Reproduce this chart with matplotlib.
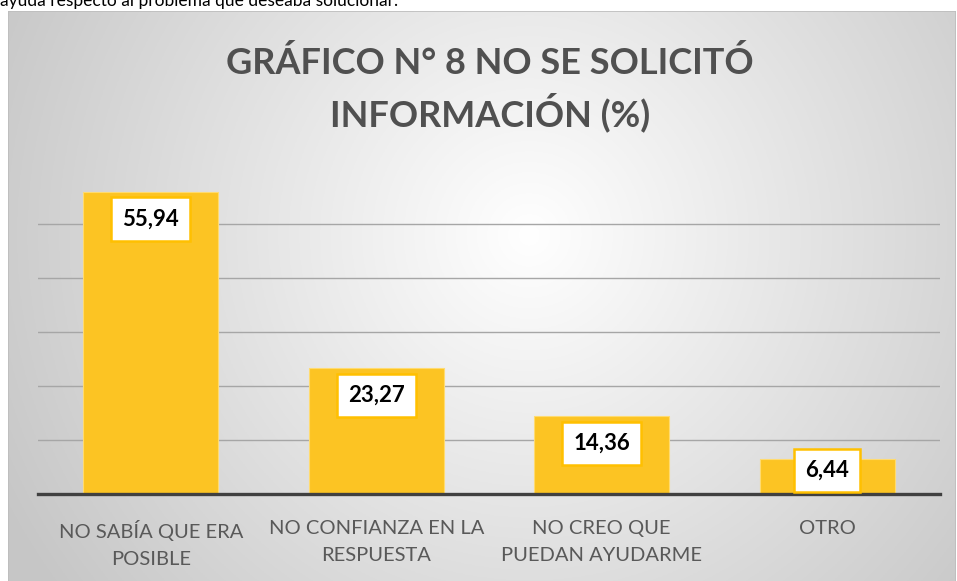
import numpy as np
import matplotlib.pyplot as plt
from matplotlib.patches import Rectangle

categories = ["NO SABÍA QUE ERA\nPOSIBLE", "NO CONFIANZA EN LA\nRESPUESTA",
              "NO CREO QUE\nPUEDAN AYUDARME", "OTRO"]
values = [55.94, 23.27, 14.36, 6.44]
value_labels = ["55,94", "23,27", "14,36", "6,44"]
title = "GRÁFICO N° 8 NO SE SOLICITÓ\nINFORMACIÓN (%)"
top_text = "ayuda respecto al problema que deseaba solucionar."

W, H = 957, 581
plt.rcParams['font.family'] = ['Lato', 'DejaVu Sans']

fig = plt.figure(figsize=(W / 100, H / 100), dpi=100)
fig.patch.set_facecolor('white')

def px_box(x0, y0, x1, y1):
    # pixel coords (top-left origin) -> figure fraction
    return [x0 / W, 1 - y1 / H, (x1 - x0) / W, (y1 - y0) / H]

# chart area background with radial gradient
bg = fig.add_axes(px_box(8, 11, 956, 600))
bg.set_axis_off()
nx, ny = 400, 260
xx, yy = np.meshgrid(np.linspace(0, 1, nx), np.linspace(0, 1, ny))
cx, cy = 0.55, 0.38
r = np.sqrt(((xx - cx) * 1.0) ** 2 + ((yy - cy) * 0.62) ** 2)
r = np.clip(r / 0.62, 0, 1)
light = np.array([1.0, 1.0, 1.0])
dark = np.array([0.78, 0.78, 0.78])
img = light[None, None, :] * (1 - r[..., None]) + dark[None, None, :] * r[..., None]
bg.imshow(img, extent=[0, 1, 0, 1], origin='upper', aspect='auto')
bg.set_xlim(0, 1)
bg.set_ylim(0, 1)
bg.add_patch(Rectangle((0, 0), 1, 1, fill=False, edgecolor='#bdbdbd', lw=1.2,
                       transform=bg.transAxes))

# text of the page above the chart, cut off by the screenshot
fig.text(0, 1 - 6 / H, top_text, fontsize=12.5, color='black',
         ha='left', va='baseline')

ax = fig.add_axes(px_box(38, 170, 940, 494))
ax.patch.set_alpha(0)
x = np.arange(len(categories))
ax.bar(x, values, width=0.6, color='#fcc423', edgecolor='#ffdb70', lw=0.8, zorder=3)
ax.set_xlim(-0.5, len(categories) - 0.5)
ax.set_ylim(0, 60)
ax.set_yticks([10, 20, 30, 40, 50])
ax.yaxis.grid(True, color='#a6a6a6', lw=1.0, zorder=0)
ax.set_yticklabels([])
ax.tick_params(axis='y', length=0)
ax.tick_params(axis='x', length=0, pad=19)
for s in ['top', 'right', 'left']:
    ax.spines[s].set_visible(False)
ax.spines['bottom'].set_color('#404040')
ax.spines['bottom'].set_linewidth(2.4)
ax.spines['bottom'].set_zorder(4)
ax.set_xticks(x)
ax.set_xticklabels(categories, fontsize=14.5, color='#595959', linespacing=1.68)

for i, (v, lab) in enumerate(zip(values, value_labels)):
    ypos = max(v - 5.0, 4.4)
    ax.text(i, ypos, lab, ha='center', va='center', fontsize=16, fontweight='bold',
            color='black', zorder=5,
            bbox=dict(boxstyle='square,pad=0.5', fc='white', ec='#ffc000', lw=1.8))

fig.text(490 / W, 1 - 89 / H, title, ha='center', va='center', fontsize=26,
         fontweight='bold', color='#505050', linespacing=1.35)

fig.savefig('out.png', dpi=100)
